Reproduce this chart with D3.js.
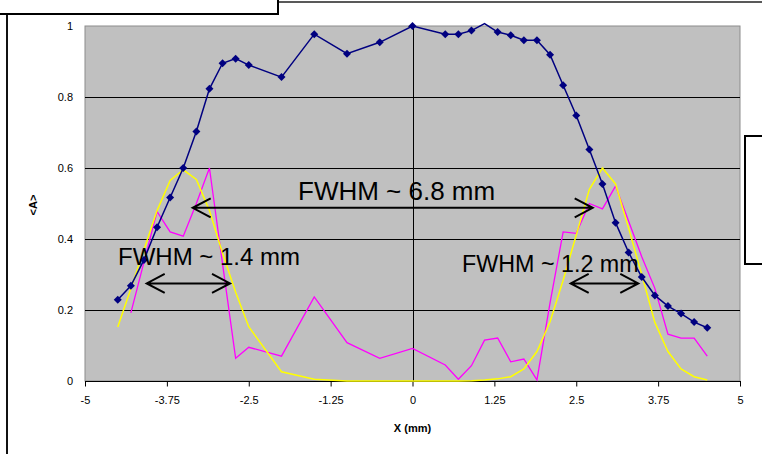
<!DOCTYPE html>
<html><head><meta charset="utf-8">
<script src="https://cdn.jsdelivr.net/npm/d3@7"></script>
<style>
html,body{margin:0;padding:0;background:#fff;overflow:hidden}
svg{display:block}
</style></head>
<body>
<svg id="chart" width="762" height="454"></svg>
<script>
// ---- data ----
const xBlue = [-4.5,-4.3,-4.1,-3.9,-3.7,-3.5,-3.3,-3.1,-2.9,-2.7,-2.5,-2.0,-1.5,-1.0,-0.5,0,0.5,0.7,0.9,1.1,1.3,1.5,1.7,1.9,2.1,2.3,2.5,2.7,2.9,3.1,3.3,3.5,3.7,3.9,4.1,4.3,4.5];
const blueValues = [0.229,0.268,0.341,0.433,0.517,0.600,0.703,0.823,0.895,0.908,0.890,0.856,0.977,0.922,0.954,1.000,0.977,0.977,0.987,1.007,0.983,0.974,0.960,0.960,0.919,0.833,0.748,0.652,0.555,0.446,0.362,0.293,0.241,0.211,0.190,0.166,0.150];
const xYellow = xBlue;
const yellowValues = [0.152,0.26,0.37,0.48,0.565,0.595,0.568,0.48,0.36,0.25,0.153,0.026,0.005,0.0,0.0,0.0,0.0,0.0,0.001,0.003,0.006,0.012,0.034,0.083,0.167,0.284,0.411,0.54,0.60,0.555,0.43,0.30,0.165,0.083,0.034,0.012,0.003];
const xMagenta = [-4.3,-4.1,-3.9,-3.7,-3.5,-3.3,-3.1,-2.9,-2.7,-2.5,-2.0,-1.5,-1.0,-0.5,0,0.5,0.7,0.9,1.1,1.3,1.5,1.7,1.9,2.1,2.3,2.5,2.7,2.9,3.1,3.3,3.5,3.7,3.9,4.1,4.3,4.5];
const magentaValues = [0.192,0.335,0.477,0.42,0.408,0.50,0.60,0.33,0.064,0.095,0.07,0.237,0.108,0.064,0.092,0.045,0.005,0.043,0.115,0.121,0.054,0.062,0.003,0.22,0.42,0.416,0.50,0.485,0.549,0.45,0.35,0.261,0.132,0.121,0.121,0.07];
const xTicks = [-5,-3.75,-2.5,-1.25,0,1.25,2.5,3.75,5];
const xTickLabels = ["-5","-3.75","-2.5","-1.25","0","1.25","2.5","3.75","5"];
const yTicks = [0,0.2,0.4,0.6,0.8,1];
const yTickLabels = ["0","0.2","0.4","0.6","0.8","1"];
const annotationTexts = ["FWHM ~ 6.8 mm","FWHM ~ 1.4 mm","FWHM ~ 1.2 mm"];
const annotationX = [-1.748,-4.496,0.756];
const annotationY = [0.51,0.327,0.307];
const annotationSize = [26,24,23.3];
const arrowX1 = [-3.356,-4.058,2.415];
const arrowX2 = [2.751,-2.786,3.447];
const arrowY = [0.488,0.275,0.275];
const xTitle = "X (mm)";
const yTitle = "<A>";

// ---- layout ----
const svg = d3.select("#chart");
const L = 85, R = 740, T = 26, B = 381;
const x = d3.scaleLinear().domain([-5,5]).range([L,R]);
const y = d3.scaleLinear().domain([0,1]).range([B,T]);
const font = "'Liberation Sans', Arial, sans-serif";

// outer chart border
svg.append("line").attr("x1",278).attr("x2",770).attr("y1",2).attr("y2",2).attr("stroke","#222").attr("stroke-width",1.5);
svg.append("line").attr("x1",7).attr("x2",7).attr("y1",14).attr("y2",460).attr("stroke","#111").attr("stroke-width",2);

// plot area
svg.append("rect").attr("x",L).attr("y",T).attr("width",R-L).attr("height",B-T)
  .attr("fill","#c0c0c0").attr("stroke","#8c8c8c").attr("stroke-width",1);

// gridlines
svg.append("g").selectAll("line").data(yTicks.filter(v=>v>0&&v<1)).join("line")
  .attr("x1",L).attr("x2",R).attr("y1",d=>Math.round(y(d))+0.5).attr("y2",d=>Math.round(y(d))+0.5)
  .attr("stroke","#000").attr("stroke-width",1);

// y axis at x=0 (ticks only)
const yAxisZero = svg.append("g").attr("transform",`translate(${Math.round(x(0))+0.5},0)`)
  .call(d3.axisLeft(y).tickValues(yTicks).tickSize(5).tickFormat(""));
yAxisZero.select(".domain").attr("stroke","#000").attr("d",`M0,${T}V${B}`);
yAxisZero.selectAll(".tick line").attr("stroke","#000");

// y labels at left
const yAxisLeft = svg.append("g").attr("transform",`translate(${L},0)`)
  .call(d3.axisLeft(y).tickValues(yTicks).tickSize(0).tickPadding(12).tickFormat((d,i)=>yTickLabels[i]));
yAxisLeft.select(".domain").remove();
yAxisLeft.selectAll("text").attr("font-family",font).attr("font-size",11).attr("fill","#000");

// x axis
const xAxis = svg.append("g").attr("transform",`translate(0,${Math.round(B)+0.5})`)
  .call(d3.axisBottom(x).tickValues(xTicks).tickSize(5).tickPadding(10).tickFormat((d,i)=>xTickLabels[i]));
xAxis.select(".domain").attr("stroke","#000").attr("d",`M${L},0H${R+1}`);
xAxis.selectAll(".tick line").attr("stroke","#000");
xAxis.selectAll("text").attr("font-family",font).attr("font-size",11).attr("fill","#000");

// axis titles
svg.append("text").attr("x",(L+R)/2).attr("y",432).attr("text-anchor","middle")
  .attr("font-family",font).attr("font-size",11).attr("font-weight","bold").text(xTitle);
svg.append("text").attr("transform","translate(37,205) rotate(-90)").attr("text-anchor","middle")
  .attr("font-family",font).attr("font-size",11).attr("font-weight","bold").text(yTitle);

// series lines
const line = d3.line().x(d=>x(d[0])).y(d=>y(d[1]));
const yellowData = xYellow.map((v,i)=>[v,yellowValues[i]]);
const magentaData = xMagenta.map((v,i)=>[v,magentaValues[i]]);
const blueData = xBlue.map((v,i)=>[v,blueValues[i]]);
svg.append("path").attr("d",line(magentaData)).attr("fill","none").attr("stroke","#ff00ff").attr("stroke-width",1.3);
svg.append("path").attr("d",line(yellowData)).attr("fill","none").attr("stroke","#ffff00").attr("stroke-width",1.5);
svg.append("path").attr("d",line(blueData)).attr("fill","none").attr("stroke","#000080").attr("stroke-width",1.5);
svg.append("g").selectAll("path").data(blueData.filter(d=>d[1]<=1)).join("path")
  .attr("d",d=>{const cx=x(d[0]),cy=y(d[1]),r=4;return `M${cx},${cy-r}L${cx+r},${cy}L${cx},${cy+r}L${cx-r},${cy}Z`;})
  .attr("fill","#000080");

// annotations
annotationTexts.forEach((t,i)=>{
  svg.append("text").attr("x",x(annotationX[i])).attr("y",y(annotationY[i]))
    .attr("font-family",font).attr("font-size",annotationSize[i]).attr("fill","#000").text(t);
});
arrowX1.forEach((v,i)=>{
  const x1=x(v), x2=x(arrowX2[i]), yy=y(arrowY[i]), h=18, w=9.5;
  svg.append("path").attr("d",`M${x1},${yy}H${x2}M${x1+h},${yy-w}L${x1},${yy}L${x1+h},${yy+w}M${x2-h},${yy-w}L${x2},${yy}L${x2-h},${yy+w}`)
    .attr("fill","none").attr("stroke","#000").attr("stroke-width",2);
});

// legend box (empty, cut off)
svg.append("rect").attr("x",745).attr("y",136).attr("width",40).attr("height",128)
  .attr("fill","#fff").attr("stroke","#000").attr("stroke-width",2);

// title box (cut off at top)
svg.append("rect").attr("x",-5).attr("y",-20).attr("width",283).attr("height",34)
  .attr("fill","#fff").attr("stroke","#000").attr("stroke-width",2);
</script>
</body></html>
